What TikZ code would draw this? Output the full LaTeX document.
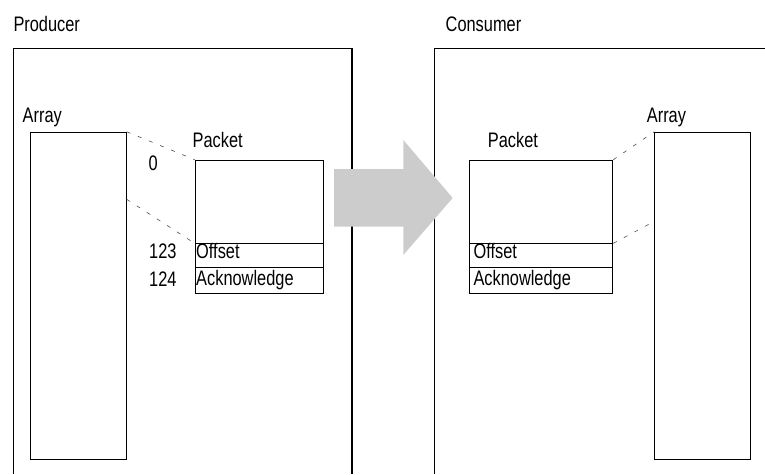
\documentclass[tikz,border=0pt]{standalone}
\usepackage{fontspec}
\setmainfont[FakeStretch=0.78]{Liberation Sans}
\usetikzlibrary{calc}
\begin{document}
\begin{tikzpicture}[x=1pt,y=-1pt,
  frame/.style={line width=1.2pt},
  box/.style={draw,line width=1pt,inner sep=0pt,anchor=north west},
  lbl/.style={inner sep=0pt,anchor=base west,font=\fontsize{21}{22}\selectfont},
  link/.style={draw=black!70,line width=0.6pt,dash pattern=on 4pt off 8pt},
  bigarrow/.style={fill=black!20,draw=none}]
\useasboundingbox (0,0) rectangle (765,474);

% --- producer side ---
\draw[frame] (13.3,474) -- (13.3,48.3) -- (352,48.3) -- (352,474);
\node[lbl] (prodtitle) at (13.3,31.5) {Producer};
\node[box,minimum width=96pt,minimum height=327.6pt] (parr) at (29.7,131.7) {};
\node[lbl] (parrlbl) at (22.5,122) {Array};
\node[box,minimum width=128.6pt,minimum height=83.6pt] (ppkt) at (194.7,159.7) {};
\node[box,minimum width=128.6pt,minimum height=24pt] (poff) at (194.7,243.3) {};
\node[box,minimum width=128.6pt,minimum height=26pt] (pack) at (194.7,267.3) {};
\node[lbl] (ppktlbl) at (192.5,147.7) {Packet};
\node[lbl] (poffl) at (196,258.5) {Offset};
\node[lbl] (packl) at (196,285.5) {Acknowledge};
\node[lbl] (idx0) at (148.3,170.7) {0};
\node[lbl] (idx123) at (149,258) {123};
\node[lbl] (idx124) at (149,286) {124};
% point on the array edge where the copied slice ends
\coordinate (pslice) at ($(parr.north east)+(0,67.6)$);
\draw[link] (parr.north east) -- (ppkt.north west);
\draw[link] (pslice) -- (poff.north west);

% --- consumer side ---
\draw[frame] (434.3,474) -- (434.3,48.3) -- (765,48.3);
\node[lbl] (constitle) at (445.5,31.5) {Consumer};
\node[box,minimum width=96pt,minimum height=327.6pt] (carr) at (654.3,131.7) {};
\node[lbl] (carrlbl) at (646.7,122) {Array};
\node[box,minimum width=143pt,minimum height=83.6pt] (cpkt) at (469.3,159.7) {};
\node[box,minimum width=143pt,minimum height=24pt] (coff) at (469.3,243.3) {};
\node[box,minimum width=143pt,minimum height=26pt] (cack) at (469.3,267.3) {};
\node[lbl] (cpktlbl) at (487.7,147.7) {Packet};
\node[lbl] (coffl) at (473.3,258.5) {Offset};
\node[lbl] (cackl) at (473.3,285.5) {Acknowledge};
\coordinate (cslice) at ($(carr.north west)+(0,89.6)$);
\draw[link] (cpkt.north east) -- (carr.north west);
\draw[link] (coff.north east) -- (cslice);

% --- transfer arrow ---
\fill[bigarrow] (334,169) -- (403.3,169) -- (403.3,140) -- (452.7,198)
  -- (403.3,255) -- (403.3,226.7) -- (334,226.7) -- cycle;
\end{tikzpicture}
\end{document}
